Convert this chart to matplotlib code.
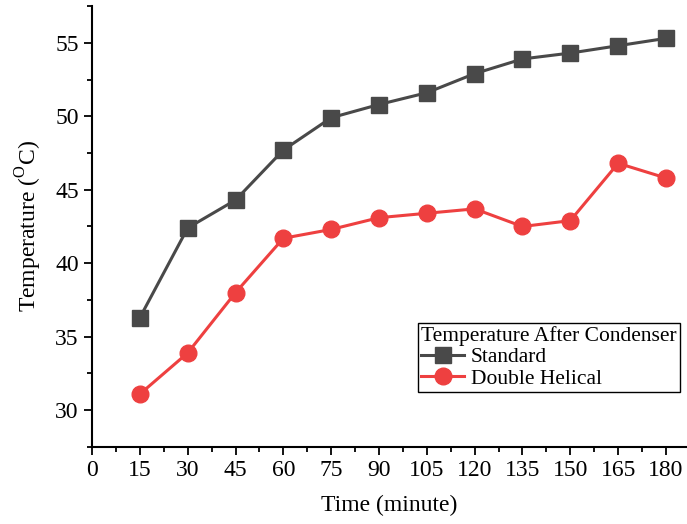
import numpy as np
from matplotlib import pyplot as plt
from matplotlib.ticker import MultipleLocator

plt.rcParams['font.family'] = ['Liberation Serif', 'DejaVu Serif']
plt.rcParams['mathtext.fontset'] = 'custom'
plt.rcParams['mathtext.rm'] = 'Liberation Serif'

# time in minutes
time = [15, 30, 45, 60, 75, 90, 105, 120, 135, 150, 165, 180]
standard = [36.3, 42.4, 44.3, 47.7, 49.9, 50.8, 51.6, 52.9, 53.9, 54.3, 54.8, 55.3]
double_helical = [31.1, 33.9, 38.0, 41.7, 42.3, 43.1, 43.4, 43.7, 42.5, 42.9, 46.8, 45.8]
xticks = list(range(0, 181, 15))
yticks = [30, 35, 40, 45, 50, 55]

fig = plt.figure(figsize=(6.87, 5.24), dpi=100)
ax = fig.add_axes([0.134, 0.147, 0.866, 0.8415])

ax.plot(time, standard, color='#494949', marker='s', markersize=11, linewidth=2.2, label='Standard')
ax.plot(time, double_helical, color='#ee4040', marker='o', markersize=12, linewidth=2.2, label='Double Helical')

ax.set_xlim(0, 186.6)
ax.set_ylim(27.5, 57.5)
ax.set_xticks(xticks)
ax.set_yticks(yticks)
ax.xaxis.set_minor_locator(MultipleLocator(7.5))
ax.yaxis.set_minor_locator(MultipleLocator(2.5))
ax.tick_params(which='major', direction='out', length=6, width=1.3, labelsize=17)
ax.tick_params(which='minor', direction='out', length=3.5, width=1.3)
ax.spines['top'].set_visible(False)
ax.spines['right'].set_visible(False)
ax.spines['left'].set_linewidth(1.5)
ax.spines['bottom'].set_linewidth(1.5)

ax.set_xlabel('Time (minute)', fontsize=17, labelpad=10)
ax.set_ylabel('Temperature ($^{\\mathrm{O}}$C)', fontsize=17, labelpad=8)

leg = ax.legend(title='Temperature After Condenser', loc='lower right', bbox_to_anchor=(0.988, 0.125),
                fontsize=15.5, title_fontsize=15.5, fancybox=False, edgecolor='black', framealpha=1,
                borderpad=0.15, labelspacing=0.05, handlelength=2.0, handletextpad=0.3,
                borderaxespad=0)
leg._legend_box.align = 'left'
leg.get_frame().set_linewidth(1)

plt.savefig('out.png', dpi=100)
